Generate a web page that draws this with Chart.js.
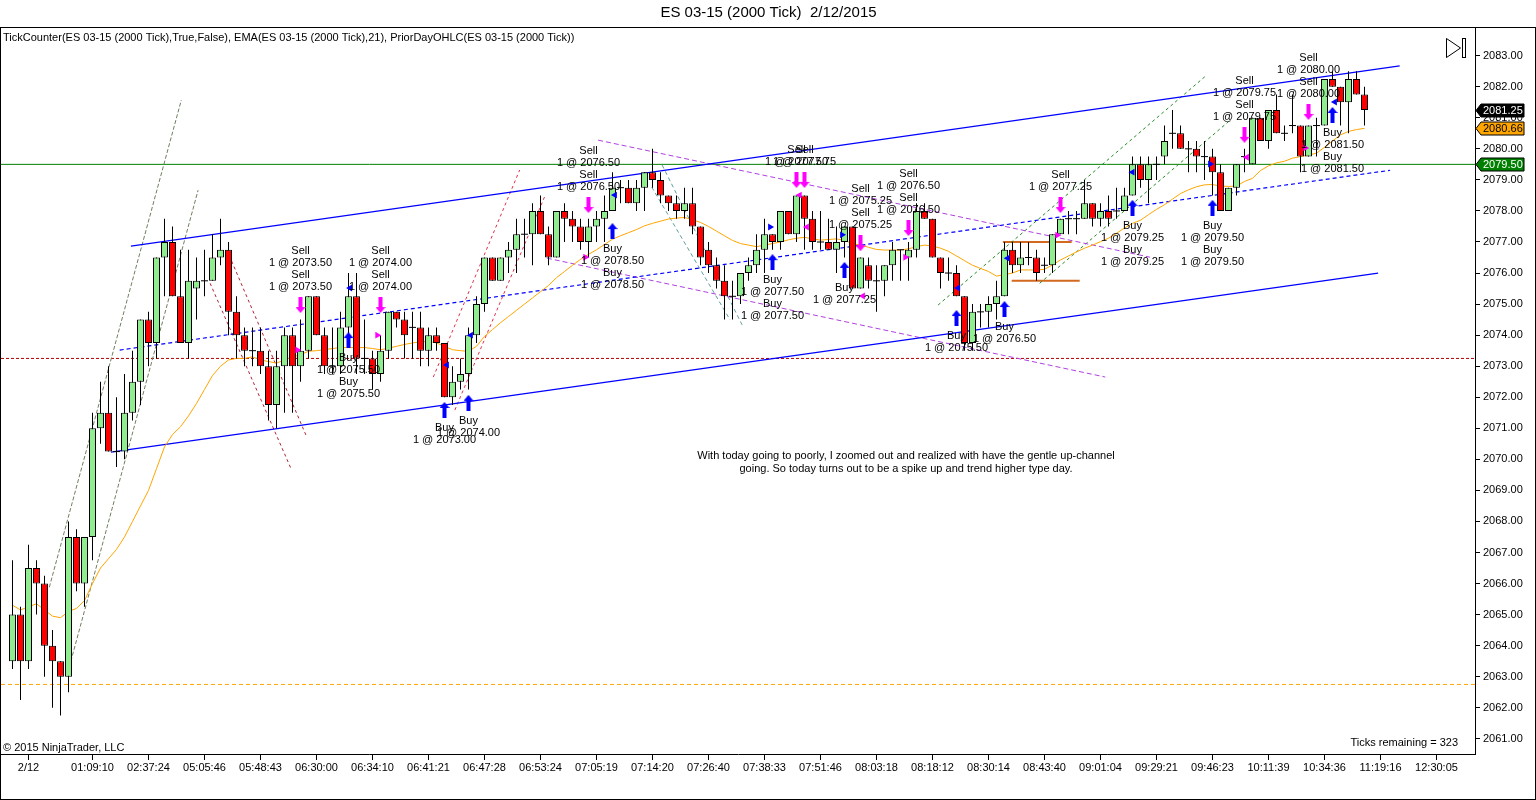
<!DOCTYPE html>
<html>
<head>
<meta charset="utf-8">
<script src="https://cdn.jsdelivr.net/npm/chart.js@4.4.1/dist/chart.umd.min.js"></script>
<style>
html,body{margin:0;padding:0;background:#fff;overflow:hidden}
#wrap{width:1536px;height:800px;position:relative}
</style>
</head>
<body>
<div id="wrap"><canvas id="c" width="1536" height="800"></canvas></div>
<script>
// ---------------- DATA ----------------
const opens = [
2063.5,2065,2063.5,2066.5,2066,2064,2063.5,2063,2067.5,2066,
2067.5,2071,2071.5,2070.25,2070.25,2071.5,2072.5,2074.5,2073.75,2076.5,
2077,2075.25,2073.75,2075.5,2075.75,2075.75,2076.5,2076.75,2074.75,2074,
2073.5,2073.5,2073,2071.75,2073,2074,2073,2073.5,2075.25,2074,
2073,2073,2074.25,2075.25,2073.25,2073.25,2072.75,2073.5,2074.75,2074.5,
2074.25,2074.25,2073.5,2074,2073.75,2072,2072.5,2072.75,2074,2075,
2076.5,2075.75,2076.5,2076.75,2077.25,2077.25,2078,2077.25,2076.5,2078,
2077.75,2077.5,2077,2077.5,2077.75,2078,2078.75,2078.75,2078.25,2078.75,
2079.25,2079,2078.5,2078.25,2078,2078.25,2077.5,2076.75,2076.25,2075.75,
2075.25,2075.25,2076,2076.25,2076.75,2077.25,2077,2078,2077.25,2078.5,
2077.75,2077,2077,2076.75,2077,2077.5,2075.5,2076.25,2075.75,2075.75,
2076.25,2076.75,2076.5,2076.75,2078,2077.75,2076.5,2076,2076,2075.25,
2073.75,2074.75,2074.75,2075,2075.25,2076.75,2076.25,2076.5,2076.5,2076.25,
2076.25,2077.25,2077.75,2077.75,2077.75,2078.25,2077.75,2078,2078,2078,
2078.5,2079.5,2079,2079.5,2079.75,2080.5,2080.5,2080,2080,2079.75,
2079.75,2079.25,2078,2078.75,2079.75,2079.5,2081,2080.25,2081.25,2080.5,
2080.75,2080.75,2079.75,2080.75,2080.75,2082.25,2082,2081.5,2082.25,2081.75];

const highs = [
2066.75,2065.25,2067.25,2066.75,2066.25,2064.5,2063.5,2068,2067.75,2067.5,
2071.5,2072.5,2073,2072,2072.75,2073.5,2074.5,2074.75,2076.5,2077.75,
2077.5,2076.75,2076.75,2076.5,2076.75,2077.25,2077.75,2077,2075.25,2074.25,
2074.25,2074.25,2073.5,2073.5,2074.25,2074.25,2074.5,2075.25,2075.25,2074.25,
2074.25,2074.75,2076,2076,2074.5,2073.5,2074,2074.75,2074.75,2074.75,
2074.75,2074.75,2074.25,2074.25,2073.75,2073,2073.25,2074.25,2075.25,2076.5,
2076.5,2076.5,2077,2077.75,2077.75,2078.25,2078.5,2077.5,2078,2078.25,
2078,2077.75,2077.75,2078,2078.5,2079.25,2079,2079,2079,2079.25,
2080,2079.25,2078.5,2078.5,2078.75,2078.75,2077.5,2077,2076.5,2076.25,
2075.75,2076,2076.5,2077.25,2077.75,2077.25,2078,2078,2078.5,2078.5,
2078,2078,2077.75,2077.5,2077.5,2077.5,2076.5,2076.5,2076.25,2076.25,
2077,2076.75,2077,2078.25,2078.25,2077.75,2076.5,2076.5,2076.25,2075.25,
2075,2075,2075.25,2075.75,2077,2077,2077,2077,2076.75,2076.5,
2077.25,2077.75,2078,2078,2079,2078.25,2078.25,2078.5,2078.75,2078.75,
2079.75,2079.75,2079.75,2079.75,2080.75,2081.25,2080.75,2080.25,2080.25,2080.25,
2080,2079.5,2078.75,2079.5,2080,2081,2081,2081.25,2081.75,2080.75,
2081.75,2080.75,2080.75,2081,2082.25,2082.5,2082,2082.5,2082.5,2082];

const lows = [
2063.25,2062.25,2063.25,2065,2063,2062,2061.75,2062.5,2065.75,2065.25,
2066.75,2070.5,2070.25,2069.75,2070,2071.25,2071.75,2073,2073.25,2075.25,
2075.25,2073.75,2073.25,2074.5,2075.25,2075.75,2076.25,2074,2073.25,2073,
2073,2072.75,2071.25,2071,2071.5,2071.5,2072.5,2073.25,2074,2072.75,
2072.75,2072.75,2074,2072.75,2072.75,2072.25,2072.5,2073.25,2074.25,2073.25,
2073.25,2073,2073,2073.5,2072,2071.75,2072.25,2072.25,2073.75,2074.75,
2075.75,2075.75,2076,2076,2076.5,2076.25,2077.25,2076.25,2076.5,2077,
2077,2076.75,2076.5,2077,2077,2078,2078.25,2078.25,2078,2078,
2078.75,2078.25,2078,2077.75,2077.75,2077.25,2076.25,2076,2075.5,2074.5,
2074.5,2075,2075.75,2076,2076,2076.75,2076.75,2077.25,2077,2076.75,
2076.75,2076.75,2076.75,2076,2076.5,2075.5,2075.5,2075.5,2074.75,2075.25,
2075.75,2075.75,2075.75,2076.5,2077.75,2076.5,2075.5,2075.75,2075.25,2073.5,
2073.5,2074.25,2074.25,2074.5,2075.25,2076,2076,2076.25,2075.75,2076,
2076,2077.25,2077.25,2077.25,2077.75,2077.5,2077.5,2077.5,2077.75,2078,
2078.5,2078.75,2078.25,2079,2079.5,2080,2080,2079.25,2079.25,2079,
2078.5,2078,2078,2078.5,2079.25,2079.5,2080.25,2080,2080.5,2080.25,
2080.5,2079.25,2079.75,2079.75,2080.75,2082,2080.75,2080.5,2081.75,2080.75];

const closes = [
2065,2063.5,2066.5,2066,2064,2063.5,2063,2067.5,2066,2067.5,
2071,2071.5,2070.25,2070.25,2071.5,2072.5,2074.5,2073.75,2076.5,2077,
2075.25,2073.75,2075.75,2075.75,2075.75,2076.5,2076.75,2074.75,2074,2073.5,
2073.5,2073,2071.75,2073,2074,2073,2073.5,2075.25,2074,2073,
2073,2074.25,2075.25,2073.25,2073.25,2072.75,2073.5,2074.75,2074.5,2074,
2074.25,2073.5,2074,2073.75,2072,2072.5,2072.75,2074,2075,2076.5,
2075.75,2076.5,2076.75,2077.25,2077.25,2078,2077.25,2076.5,2078,2077.75,
2077.5,2077,2077.5,2077.75,2078,2078.75,2078.75,2078.25,2078.75,2079.25,
2079,2078.5,2078.25,2078,2078.25,2077.5,2076.5,2076.25,2075.75,2075.25,
2075.25,2076,2076.25,2076.75,2077.25,2077,2078,2077.25,2078.5,2077.75,
2077,2077,2076.75,2077,2077.5,2075.5,2076.5,2075.75,2075.75,2076.25,
2076.75,2076.75,2076.75,2078,2077.75,2076.5,2076,2076,2075.25,2073.75,
2074.75,2074.75,2075,2075.25,2076.75,2076.25,2076.5,2076.5,2076,2076.25,
2077.25,2077.75,2077.75,2077.75,2078.25,2077.75,2078,2077.75,2078,2078.5,
2079.5,2079,2079.5,2079.5,2080.25,2080.5,2080,2080,2079.75,2079.75,
2079.25,2078,2078.75,2079.5,2079.75,2081,2080.25,2081.25,2080.5,2080.5,
2080.75,2079.75,2080.75,2080.75,2082.25,2082,2081.5,2082.25,2081.75,2081.25];

// EMA(21)
const ema21 = [
2065.3,2065.15,2065.25,2065.35,2065.15,2064.95,2064.9,2065.1,2065.2,2065.45,
2066,2066.5,2066.8,2067.1,2067.5,2068,2068.5,2069,2069.7,2070.4,
2070.8,2071.05,2071.4,2071.8,2072.25,2072.7,2073,2073.2,2073.25,2073.25,
2073.3,2073.2,2073.15,2073.1,2073.2,2073.3,2073.37,2073.48,2073.5,2073.53,
2073.57,2073.6,2073.6,2073.6,2073.6,2073.57,2073.53,2073.58,2073.64,2073.7,
2073.75,2073.78,2073.8,2073.75,2073.64,2073.53,2073.5,2073.48,2073.64,2073.96,
2074.18,2074.4,2074.6,2074.8,2075,2075.2,2075.4,2075.6,2075.85,2076.05,
2076.25,2076.44,2076.6,2076.75,2076.92,2077.09,2077.2,2077.3,2077.4,2077.52,
2077.6,2077.67,2077.74,2077.77,2077.79,2077.72,2077.63,2077.5,2077.35,2077.2,
2077.05,2076.95,2076.9,2076.85,2076.9,2076.95,2077,2077.07,2077.12,2077.15,
2077.1,2077.06,2077.08,2077.1,2077.05,2076.95,2076.9,2076.83,2076.76,2076.74,
2076.74,2076.74,2076.78,2076.85,2076.9,2076.87,2076.8,2076.7,2076.55,2076.4,
2076.25,2076.15,2076.05,2075.9,2075.95,2076,2076.1,2076.1,2076.1,2076.12,
2076.26,2076.42,2076.55,2076.68,2076.8,2076.9,2077.01,2077.12,2077.28,2077.45,
2077.6,2077.7,2077.88,2078.05,2078.2,2078.38,2078.56,2078.68,2078.78,2078.84,
2078.85,2078.8,2078.79,2078.8,2078.95,2079.05,2079.3,2079.45,2079.55,2079.6,
2079.7,2079.75,2079.8,2079.86,2080.05,2080.25,2080.45,2080.56,2080.62,2080.66];

const xTickIndex = [2,10,17,24,31,38,45,52,59,66,73,80,87,94,101,108,115,122,129,136,143,150,157,164,171,178];
const xTickLabels = ['2/12','01:09:10','02:37:24','05:05:46','05:48:43','06:30:00','06:34:10','06:41:21','06:47:28','06:53:24',
  '07:05:19','07:14:20','07:26:40','07:38:33','07:51:46','08:03:18','08:18:12','08:30:14','08:43:40','09:01:04',
  '09:29:21','09:46:23','10:11:39','10:34:36','11:19:16','12:30:05'];
const yTicks = [2061,2062,2063,2064,2065,2066,2067,2068,2069,2070,2071,2072,2073,2074,2075,2076,2077,2078,2079,2080,2081,2082,2083];

// Prior day levels and last values
const priorClose = 2079.50;
const priorMid = 2073.25;
const priorLow = 2062.75;
const lastPrice = 2081.25;
const lastEma = 2080.66;

// Drawn trend lines: [barIndex, price] endpoints
const channelUpper = [[14.8,2076.87],[173.4,2082.67]];
const channelLower = [[12.3,2070.23],[170.7,2076.0]];
const channelMid   = [[13.4,2073.52],[172.2,2079.31]];
const spikeA = [[4.6,2065.88],[21.1,2081.57]];
const spikeB = [[6.9,2063.12],[23.2,2078.67]];
const redDown1 = [[24.7,2075.67],[34.9,2069.65]];
const redDown2 = [[26.8,2076.74],[36.8,2070.71]];
const redUp1 = [[52.6,2072.65],[63.4,2079.32]];
const redUp2 = [[55.3,2071.59],[66.6,2078.51]];
const purpleUpper = [[73.2,2080.28],[142.2,2076.51]];
const purpleLower = [[66.8,2076.48],[136.6,2072.65]];
const tealA = [[81.2,2079.48],[91.2,2074.33]];
const tealB = [[79.9,2078.77],[89.7,2074.49]];
const greenA = [[115.7,2074.97],[149.3,2082.38]];
const greenB = [[128.4,2075.67],[152.2,2080.92]];
const boxTop = [[123.8,2077.0],[132.4,2077.0]];
const boxBottom = [[124.9,2075.75],[133.4,2075.75]];

// Trade markers
const sellK = [36,46,72,98,99,106,112,131,154,162];
const sellP = [2074.97,2074.97,2078.19,2079.0,2079.0,2076.96,2077.45,2078.19,2080.45,2081.19];
const sellLabels = [
 ['Sell','1 @ 2073.50','Sell','1 @ 2073.50'],
 ['Sell','1 @ 2074.00','Sell','1 @ 2074.00'],
 ['Sell','1 @ 2076.50','Sell','1 @ 2076.50'],
 ['Sell','1 @ 2077.50'],
 ['Sell','1 @ 2077.75'],
 ['Sell','1 @ 2075.25','Sell','1 @ 2075.25'],
 ['Sell','1 @ 2076.50','Sell','1 @ 2076.50'],
 ['Sell','1 @ 2077.25'],
 ['Sell','1 @ 2079.75','Sell','1 @ 2079.75'],
 ['Sell','1 @ 2080.00','Sell','1 @ 2080.00']];
const buyK = [42,54,57,75,95,104,118,124,140,150,165];
const buyP = [2073.84,2071.59,2071.82,2077.35,2076.35,2076.10,2074.55,2074.84,2078.10,2078.10,2081.09];
const buyLabels = [
 ['Buy','1 @ 2075.50','Buy','1 @ 2075.50'],
 ['Buy','1 @ 2073.00'],
 ['Buy','1 @ 2074.00'],
 ['Buy','1 @ 2078.50','Buy','1 @ 2078.50'],
 ['Buy','1 @ 2077.50','Buy','1 @ 2077.50'],
 ['Buy','1 @ 2077.25'],
 ['Buy','1 @ 2075.50'],
 ['Buy','1 @ 2076.50'],
 ['Buy','1 @ 2079.25','Buy','1 @ 2079.25'],
 ['Buy','1 @ 2079.50','Buy','1 @ 2079.50'],
 ['Buy','1 @ 2081.50','Buy','1 @ 2081.50']];

const triBlueRight = [[94.7,2077.48],[103.7,2077.23],[149.7,2079.51]];
const triBlueLeft = [[42.2,2075.52],[54.3,2073.04],[57.3,2074.0],[75.3,2078.51],[118.2,2075.52],[124.4,2076.48],[140,2079.25],[165.3,2081.51]];
const triMagRight = [[35.6,2073.52],[45.6,2074.0],[71.6,2076.51],[111.6,2076.51],[130.6,2077.22],[161.6,2080.03]];
const triMagLeft = [[98.4,2078.51],[99.3,2077.48],[106.3,2075.26],[154.3,2079.73]];

const titleText = 'ES 03-15 (2000 Tick)  2/12/2015';
const indicatorText = 'TickCounter(ES 03-15 (2000 Tick),True,False), EMA(ES 03-15 (2000 Tick),21), PriorDayOHLC(ES 03-15 (2000 Tick))';
const noteLines = ['With today going to poorly, I zoomed out and realized with have the gentle up-channel',
                   'going. So today turns out to be a spike up and trend higher type day.'];

// ---------------- BUILD ----------------
const FONT = "'Liberation Sans', Arial, Helvetica, sans-serif";
Chart.defaults.font.family = FONT;
Chart.defaults.color = '#000';

const X_MIN = -1.4375, X_MAX = 182.8125;
const Y_MIN = 2060.51, Y_MAX = 2083.924;

const wickData = [], bodyData = [], bodyColors = [], dojiData = [];
for (let i = 0; i < opens.length; i++) {
  wickData.push({x: i, y: [lows[i], highs[i]]});
  if (opens[i] === closes[i]) {
    dojiData.push({x: i, y: closes[i]});
  } else {
    bodyData.push({x: i, y: [Math.min(opens[i], closes[i]), Math.max(opens[i], closes[i])]});
    bodyColors.push(closes[i] > opens[i] ? '#90EE90' : '#FF0000');
  }
}
const seg = pts => pts.map(p => ({x: p[0], y: p[1]}));
const hline = v => [{x: X_MIN, y: v}, {x: X_MAX, y: v}];

function makeArrow(color, up) {
  const c = document.createElement('canvas');
  c.width = 10; c.height = 16;
  const g = c.getContext('2d');
  g.fillStyle = color;
  g.beginPath();
  if (up) {
    g.moveTo(5, 0); g.lineTo(10, 6); g.lineTo(7, 6); g.lineTo(7, 16); g.lineTo(3, 16); g.lineTo(3, 6); g.lineTo(0, 6);
  } else {
    g.moveTo(5, 16); g.lineTo(10, 10); g.lineTo(7, 10); g.lineTo(7, 0); g.lineTo(3, 0); g.lineTo(3, 10); g.lineTo(0, 10);
  }
  g.closePath(); g.fill();
  return c;
}
const buyArrow = makeArrow('#0000FF', true);
const sellArrow = makeArrow('#FF00FF', false);

function lineDs(pts, color, dash, width, order) {
  return {type: 'line', data: seg(pts), borderColor: color, borderWidth: width || 1, borderDash: dash || [],
    pointRadius: 0, pointHoverRadius: 0, fill: false, tension: 0, order: order || 6};
}
function triDs(pts, color, rot) {
  return {type: 'scatter', data: seg(pts), pointStyle: 'triangle', rotation: rot, pointRadius: 4,
    pointBackgroundColor: color, pointBorderColor: color, pointBorderWidth: 0, order: 0};
}

const datasets = [
  {type: 'scatter', data: buyK.map((k, i) => ({x: k, y: buyP[i]})), pointStyle: buyArrow, pointRadius: 8, order: 0},
  {type: 'scatter', data: sellK.map((k, i) => ({x: k, y: sellP[i]})), pointStyle: sellArrow, pointRadius: 8, order: 0},
  triDs(triBlueRight, '#0000FF', 90),
  triDs(triBlueLeft, '#0000FF', -90),
  triDs(triMagRight, '#FF00FF', 90),
  triDs(triMagLeft, '#FF00FF', -90),
  {type: 'bar', data: bodyData, backgroundColor: bodyColors, borderColor: '#000', borderWidth: 1, borderSkipped: false,
    barThickness: 7, grouped: false, inflateAmount: 0, order: 1},
  {type: 'scatter', data: dojiData, pointStyle: 'line', pointRadius: 3.5, pointBorderColor: '#000', pointBorderWidth: 1, order: 1},
  {type: 'bar', data: wickData, backgroundColor: '#000', borderWidth: 0, barThickness: 1, grouped: false, inflateAmount: 0, order: 2},
  {type: 'line', data: ema21.map((v, i) => ({x: i, y: v})), borderColor: '#FFA500', borderWidth: 1, pointRadius: 0, fill: false, tension: 0, order: 3},
  lineDs(channelUpper, '#0000FF', [], 1.3),
  lineDs(channelLower, '#0000FF', [], 1.3),
  lineDs(channelMid, '#0000FF', [4, 3], 1.2),
  lineDs(spikeA, '#6E7F5E', [4, 2]),
  lineDs(spikeB, '#6E7F5E', [4, 2]),
  lineDs(redDown1, '#B22234', [3, 3]),
  lineDs(redDown2, '#B22234', [3, 3]),
  lineDs(redUp1, '#E0304A', [3, 3]),
  lineDs(redUp2, '#E0304A', [3, 3]),
  lineDs(purpleUpper, '#B040E0', [5, 3]),
  lineDs(purpleLower, '#B040E0', [5, 3]),
  lineDs(tealA, '#5F9EA0', [4, 3]),
  lineDs(tealB, '#5F9EA0', [4, 3]),
  lineDs(greenA, '#228B22', [3, 3]),
  lineDs(greenB, '#228B22', [3, 3]),
  lineDs(boxTop, '#D2691E', [], 2),
  lineDs(boxBottom, '#D2691E', [], 2),
  {type: 'line', data: hline(priorClose), borderColor: '#008000', borderWidth: 1, pointRadius: 0, order: 7},
  {type: 'line', data: hline(priorMid), borderColor: '#B00000', borderWidth: 1, borderDash: [3, 2], pointRadius: 0, order: 7},
  {type: 'line', data: hline(priorLow), borderColor: '#FFA500', borderWidth: 1, borderDash: [4, 3], pointRadius: 0, order: 7}
];

function priceTag(ctx, y, text, bg, fg) {
  const x0 = 1476, x1 = 1481, x2 = 1524, h = 6.5;
  ctx.beginPath();
  ctx.moveTo(x0, y); ctx.lineTo(x1, y - h); ctx.lineTo(x2, y - h); ctx.lineTo(x2, y + h); ctx.lineTo(x1, y + h);
  ctx.closePath();
  ctx.fillStyle = bg; ctx.fill();
  ctx.strokeStyle = '#000'; ctx.lineWidth = 1; ctx.stroke();
  ctx.fillStyle = fg; ctx.font = '11px ' + FONT; ctx.textAlign = 'left'; ctx.textBaseline = 'middle';
  ctx.fillText(text, 1483, y + 0.5);
}

const overlay = {
  id: 'overlay',
  afterDatasetsDraw(chart) {
    const ctx = chart.ctx, xs = chart.scales.x, ys = chart.scales.y;
    ctx.save();
    ctx.font = '11px ' + FONT;
    ctx.fillStyle = '#000';
    ctx.textAlign = 'center';
    ctx.textBaseline = 'middle';
    sellK.forEach((k, i) => {
      const px = xs.getPixelForValue(k), py = ys.getPixelForValue(sellP[i]);
      const lines = sellLabels[i];
      const start = py - 18 - 12 * (lines.length - 1);
      lines.forEach((t, j) => ctx.fillText(t, px, start + 12 * j));
    });
    buyK.forEach((k, i) => {
      const px = xs.getPixelForValue(k), py = ys.getPixelForValue(buyP[i]);
      buyLabels[i].forEach((t, j) => ctx.fillText(t, px, py + 18 + 12 * j));
    });
    ctx.font = '11px ' + FONT;
    ctx.fillText(noteLines[0], 906, 456);
    ctx.fillText(noteLines[1], 906, 469);
    ctx.restore();
  },
  afterDraw(chart) {
    const ctx = chart.ctx, ys = chart.scales.y;
    ctx.save();
    ctx.strokeStyle = '#000'; ctx.lineWidth = 1;
    ctx.strokeRect(0.5, 27.5, 1535, 772);
    priceTag(ctx, Math.round(ys.getPixelForValue(lastPrice)) + 0.5, lastPrice.toFixed(2), '#000000', '#FFFFFF');
    priceTag(ctx, Math.round(ys.getPixelForValue(lastEma)) + 0.5, lastEma.toFixed(2), '#FFA500', '#000000');
    priceTag(ctx, Math.round(ys.getPixelForValue(priorClose)) + 0.5, priorClose.toFixed(2), '#008000', '#FFFFFF');
    ctx.fillStyle = '#000';
    ctx.textBaseline = 'middle';
    ctx.textAlign = 'left';
    ctx.font = '11px ' + FONT;
    ctx.fillText(indicatorText, 3, 38);
    ctx.fillText('\u00A9 2015 NinjaTrader, LLC', 3, 748);
    ctx.textAlign = 'right';
    ctx.fillText('Ticks remaining = 323', 1458, 743);
    ctx.beginPath();
    ctx.moveTo(1446.5, 38.5); ctx.lineTo(1446.5, 57.5); ctx.lineTo(1460.5, 48); ctx.closePath();
    ctx.stroke();
    ctx.strokeRect(1462.5, 38.5, 3, 19);
    ctx.restore();
  }
};

new Chart(document.getElementById('c'), {
  type: 'bar',
  data: {datasets},
  options: {
    responsive: false,
    animation: false,
    devicePixelRatio: 1,
    events: [],
    layout: {autoPadding: false, padding: {left: 1, right: 0, top: 0, bottom: 0}},
    plugins: {
      legend: {display: false},
      tooltip: {enabled: false},
      title: {display: true, text: titleText, color: '#000', font: {size: 15, weight: 'normal', family: FONT},
        padding: {top: 4, bottom: 5}}
    },
    scales: {
      x: {
        type: 'linear', position: 'bottom', min: X_MIN, max: X_MAX, offset: false,
        grid: {display: true, drawOnChartArea: false, drawTicks: true, tickLength: 6, color: '#000', offset: false},
        border: {display: true, color: '#000', width: 1},
        ticks: {autoSkip: false, maxRotation: 0, minRotation: 0, padding: 1, color: '#000', font: {size: 11},
          callback: (v, i) => xTickLabels[i]},
        afterBuildTicks: s => { s.ticks = xTickIndex.map(v => ({value: v})); },
        afterFit: s => { s.height = 46; s.paddingLeft = 0; s.paddingRight = 0; }
      },
      y: {
        type: 'linear', position: 'right', min: Y_MIN, max: Y_MAX,
        grid: {display: true, drawOnChartArea: false, drawTicks: true, tickLength: 5, color: '#000'},
        border: {display: true, color: '#000', width: 1},
        ticks: {padding: 3, color: '#000', font: {size: 11}, callback: v => Number(v).toFixed(2)},
        afterBuildTicks: s => { s.ticks = yTicks.map(v => ({value: v})); },
        afterFit: s => { s.width = 61; s.paddingTop = 0; s.paddingBottom = 0; }
      }
    }
  },
  plugins: [overlay]
});
</script>
</body>
</html>
